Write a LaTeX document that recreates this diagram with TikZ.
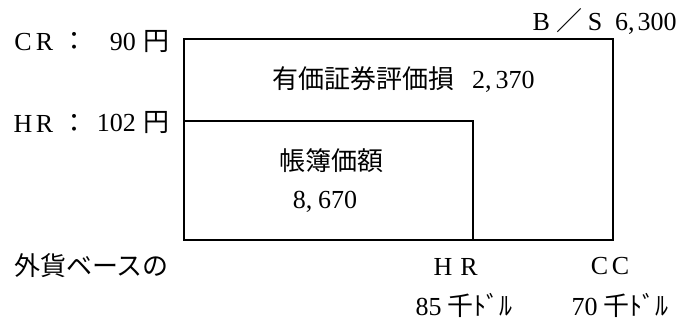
\documentclass[tikz,border=0pt]{standalone}
\usepackage{fontspec}
\setmainfont{Liberation Serif}
\newfontfamily\jp{Noto Sans CJK JP}
\newcommand{\lbox}[2]{\makebox[#1]{#2}}
\tikzset{
  txt/.style={inner sep=0pt, font=\fontsize{26}{30}\selectfont},
  box/.style={draw, line width=1.7pt}
}
\begin{document}
\begin{tikzpicture}[x=1pt,y=-1pt]
\useasboundingbox (0,0) rectangle (687,322);
\coordinate (o1) at (184,39);
\coordinate (o2) at (613,240);
\coordinate (i1) at (184,121);
\coordinate (i2) at (473,240);
\draw[box] (o1) rectangle (o2);
\draw[box] (i1) -| (i2);
\node[txt, anchor=west] (crl) at (12,42) {\lbox{21.5pt}{C}\lbox{21.5pt}{R}\hspace{6pt}{\jp ：}};
\node[txt, anchor=east] (crv) at (170,42) {90\hspace{8pt}{\jp 円}};
\node[txt, anchor=west] (hrl) at (12,123) {\lbox{21.5pt}{H}\lbox{21.5pt}{R}\hspace{6pt}{\jp ：}};
\node[txt, anchor=east] (hrv) at (170,123) {102\hspace{8pt}{\jp 円}};
\node[txt, anchor=west] (bs) at (530,21) {\lbox{22pt}{B}\hspace{4pt}{\jp ／}\hspace{2pt}\lbox{22pt}{S}\hspace{9pt}6,\hspace{3pt}300};
\node[txt, anchor=west] (loss) at (272,80) {{\jp 有価証券評価損}\hspace{18pt}2,\hspace{4pt}370};
\node[txt] (bv) at (331,161) {\jp 帳簿価額};
\node[txt] (bvn) at (325,202) {8,\hspace{6pt}670};
\node[txt, anchor=west] (base) at (14,266) {\jp 外貨ベースの};
\node[txt] (hr) at (456,267) {\lbox{26pt}{H}\lbox{26pt}{R}};
\node[txt] (cc) at (610,266) {\lbox{21pt}{C}\lbox{21pt}{C}};
\node[txt] (d85) at (464,305) {85\hspace{6pt}{\jp 千ﾄﾞﾙ}};
\node[txt] (d70) at (620,305) {70\hspace{6pt}{\jp 千ﾄﾞﾙ}};
\end{tikzpicture}
\end{document}
